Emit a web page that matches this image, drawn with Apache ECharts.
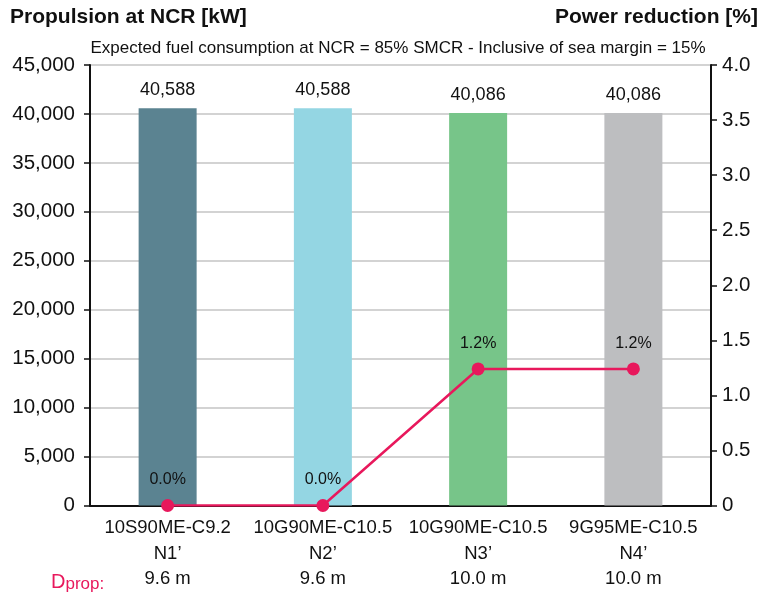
<!DOCTYPE html>
<html>
<head>
<meta charset="utf-8">
<script src="https://cdn.jsdelivr.net/npm/echarts@6/dist/echarts.min.js"></script>
<style>
  html, body { margin: 0; padding: 0; background: #fff; }
  #chart { width: 765px; height: 592px; }
</style>
</head>
<body>
<div id="chart"></div>
<script>
const engines = ['10S90ME-C9.2', '10G90ME-C10.5', '10G90ME-C10.5', '9G95ME-C10.5'];
const variants = ['N1’', 'N2’', 'N3’', 'N4’'];
const propDiameters = ['9.6 m', '9.6 m', '10.0 m', '10.0 m'];
const propulsionKW = [40588, 40588, 40086, 40086];
const powerReductionPct = [0.0, 0.0, 1.24, 1.24];
const barColors = ['#5b8391', '#94d6e3', '#77c589', '#bdbec0'];

const FONT = '"Liberation Sans", Arial, sans-serif';
const RED = '#e8185c';

const chart = echarts.init(document.getElementById('chart'), null, { renderer: 'canvas' });

const categories = engines.map((e, i) => e + '\n' + variants[i] + '\n' + propDiameters[i]);

chart.setOption({
  animation: false,
  backgroundColor: '#fff',
  textStyle: { fontFamily: FONT },
  grid: { left: 90, right: 54, top: 65, bottom: 85 },
  graphic: [
    { type: 'text', left: 10, top: 7, style: { text: 'Propulsion at NCR [kW]', font: 'bold 21px ' + FONT, fill: '#111' } },
    { type: 'text', right: 7, top: 7, style: { text: 'Power reduction [%]', font: 'bold 21px ' + FONT, fill: '#111' } },
    { type: 'text', x: 398, y: 48, style: { text: 'Expected fuel consumption at NCR = 85% SMCR - Inclusive of sea margin = 15%', font: '17px ' + FONT, fill: '#111', align: 'center', verticalAlign: 'middle' } },
    { type: 'text', x: 51, y: 580, style: {
        text: '{d|D}{s|prop:}',
        verticalAlign: 'middle',
        rich: {
          d: { fontSize: 20, fontFamily: FONT, fill: RED, color: RED, verticalAlign: 'bottom' },
          s: { fontSize: 17, fontFamily: FONT, fill: RED, color: RED, padding: [8, 0, 0, 0], verticalAlign: 'top' }
        }
      } }
  ],
  xAxis: {
    type: 'category',
    data: categories,
    axisLine: { show: true, lineStyle: { color: '#111', width: 2 } },
    axisTick: { show: false },
    axisLabel: { color: '#111', fontSize: 18.5, lineHeight: 25.5, margin: 10, interval: 0, fontFamily: FONT }
  },
  yAxis: [
    {
      type: 'value', min: 0, max: 45000, interval: 5000,
      axisLine: { show: true, lineStyle: { color: '#111', width: 2 } },
      axisTick: { show: true, length: 6, lineStyle: { color: '#111', width: 1.5 } },
      axisLabel: { color: '#111', fontSize: 20.5, margin: 15, fontFamily: FONT, formatter: v => v.toLocaleString('en-US') },
      splitLine: { show: true, lineStyle: { color: '#c4c4c4', width: 1.5 } }
    },
    {
      type: 'value', min: 0, max: 4, interval: 0.5, position: 'right',
      axisLine: { show: true, lineStyle: { color: '#111', width: 2 } },
      axisTick: { show: true, length: 6, lineStyle: { color: '#111', width: 1.5 } },
      axisLabel: { color: '#111', fontSize: 20.5, margin: 11, fontFamily: FONT, formatter: v => v === 0 ? '0' : v.toFixed(1) },
      splitLine: { show: false }
    }
  ],
  series: [
    {
      type: 'bar',
      data: propulsionKW.map((v, i) => ({ value: v, itemStyle: { color: barColors[i] } })),
      barWidth: 58,
      label: { show: true, position: 'top', distance: 9, color: '#111', fontSize: 18, fontFamily: FONT, formatter: p => p.value.toLocaleString('en-US') }
    },
    {
      type: 'line',
      yAxisIndex: 1,
      data: powerReductionPct,
      z: 5,
      symbol: 'circle',
      symbolSize: 13,
      itemStyle: { color: RED },
      lineStyle: { color: RED, width: 2.5 },
      label: { show: true, position: 'top', distance: 11, color: '#111', fontSize: 16, fontFamily: FONT, formatter: p => p.value.toFixed(1) + '%' }
    }
  ]
});
</script>
</body>
</html>
